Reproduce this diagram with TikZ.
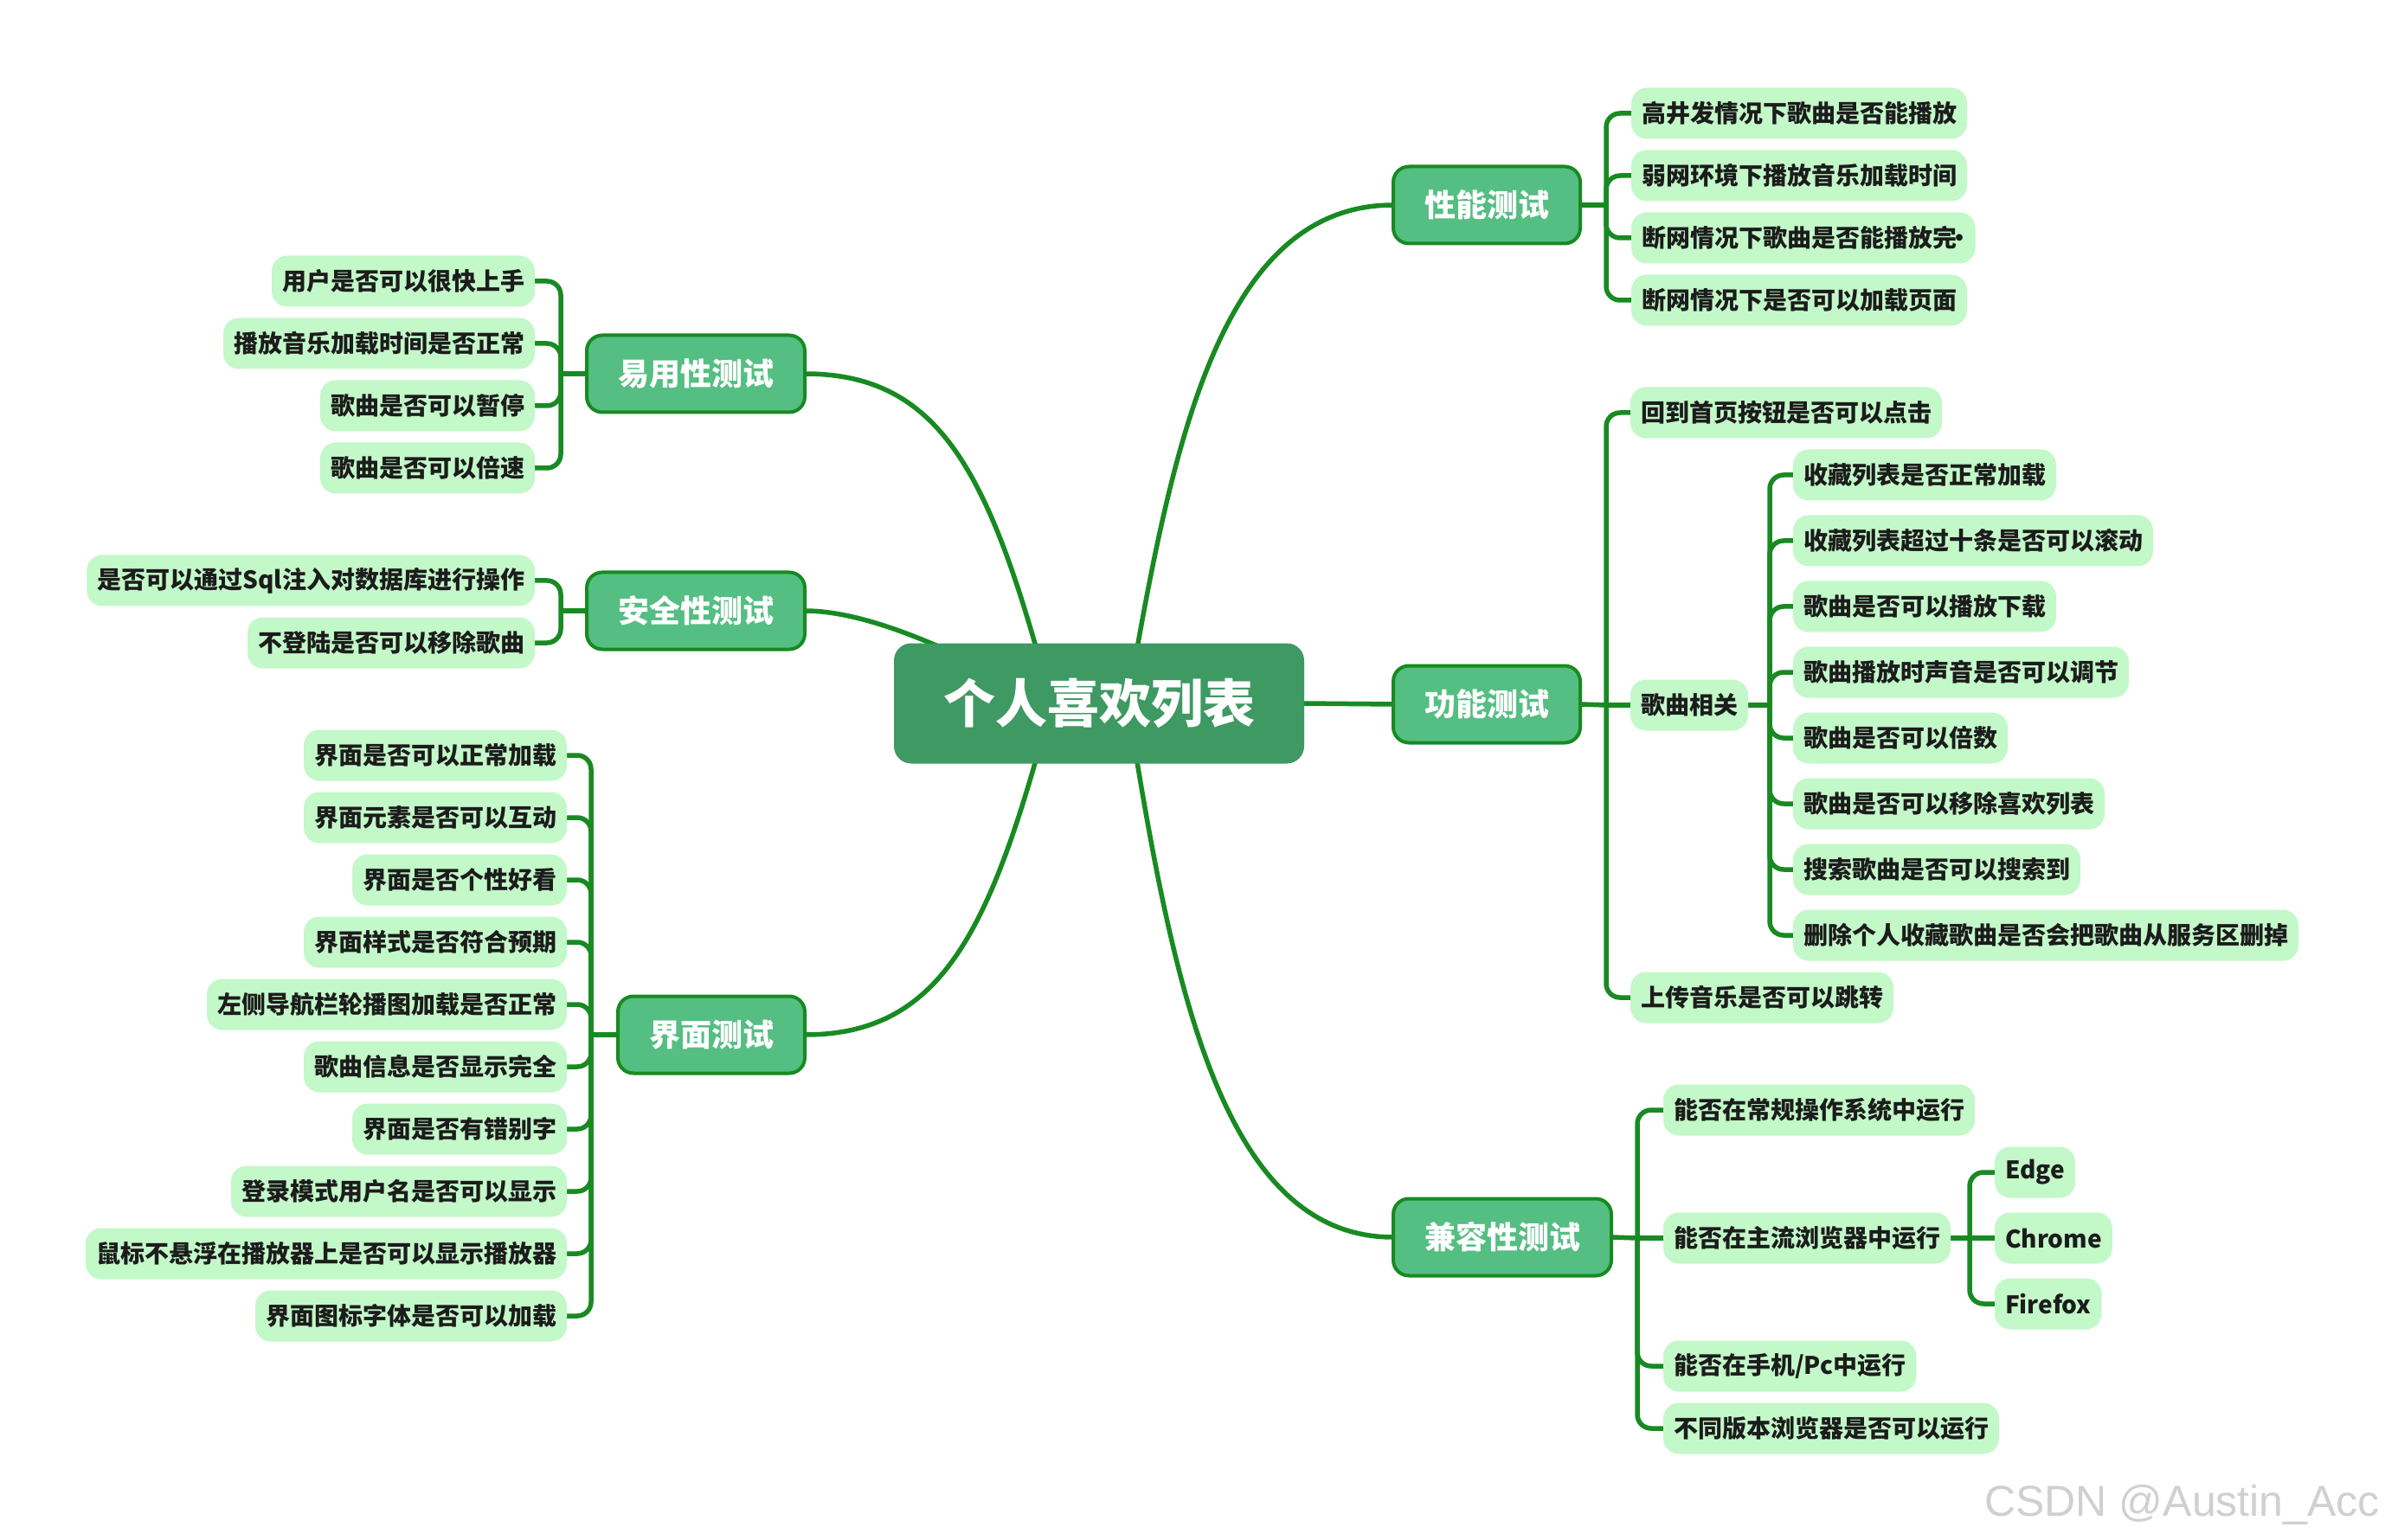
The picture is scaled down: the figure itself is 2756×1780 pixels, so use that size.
\documentclass[tikz,border=0pt]{standalone}
\usepackage{fontspec}
\setmainfont{Noto Sans CJK SC}
\newfontfamily\wmfont{Liberation Sans}
\usetikzlibrary{calc,backgrounds}
\definecolor{lineg}{HTML}{188A22}
\definecolor{rootfill}{HTML}{3F9962}
\definecolor{mainfill}{HTML}{55BE82}
\definecolor{leaffill}{HTML}{C3F8C8}
\definecolor{leaftext}{HTML}{1C1C1C}
\definecolor{wmcol}{HTML}{D0D0D0}
\begin{document}
\begin{tikzpicture}[x=0.5pt,y=-0.5pt,
  rootnode/.style={fill=rootfill, rounded corners=10pt, text=white,
    font=\fontsize{30pt}{34pt}\selectfont\bfseries, inner xsep=28.5pt, inner ysep=0pt,
    minimum height=69.5pt, outer sep=0pt},
  mainnode/.style={fill=mainfill, draw=lineg, line width=2pt, rounded corners=9pt, text=white,
    font=\fontsize{18pt}{21pt}\selectfont\bfseries, inner xsep=18pt, inner ysep=0pt,
    minimum height=44.5pt, outer sep=0pt},
  leaf/.style={fill=leaffill, rounded corners=9pt, text=leaftext,
    font=\fontsize{14pt}{17pt}\selectfont\bfseries, inner xsep=6pt, inner ysep=0pt,
    minimum height=29.5pt, outer sep=0pt},
  conn/.style={draw=lineg, line width=2.75pt},
  spine/.style={conn, rounded corners=8pt}]
\useasboundingbox (0,0) rectangle (2756,1780);

% root
\node[rootnode] (ctr) at (1270,813) {个人喜欢列表};

% main topics
\node[mainnode, anchor=west] (perf) at (1610,237) {性能测试};
\node[mainnode, anchor=west] (func) at (1610,814) {功能测试};
\node[mainnode, anchor=west] (comp) at (1610,1430) {兼容性测试};
\node[mainnode, anchor=east] (easy) at (930,432) {易用性测试};
\node[mainnode, anchor=east] (sec) at (930,706) {安全性测试};
\node[mainnode, anchor=east] (ui) at (930,1196) {界面测试};

% performance
\node[leaf, anchor=west] (p1) at (1885,131) {高井发情况下歌曲是否能播放};
\node[leaf, anchor=west] (p2) at (1885,203) {弱网环境下播放音乐加载时间};
\node[leaf, anchor=west] (p3) at (1885,275) {断网情况下歌曲是否能播放完\kern-0.36em•\kern-0.3em};
\node[leaf, anchor=west] (p4) at (1885,347) {断网情况下是否可以加载页面};

% function
\node[leaf, anchor=west] (f1) at (1884,477) {回到首页按钮是否可以点击};
\node[leaf, anchor=west] (f2) at (1884,815) {歌曲相关};
\node[leaf, anchor=west] (f3) at (1884,1153) {上传音乐是否可以跳转};

\node[leaf, anchor=west] (s1) at (2072,549) {收藏列表是否正常加载};
\node[leaf, anchor=west] (s2) at (2072,625) {收藏列表超过十条是否可以滚动};
\node[leaf, anchor=west] (s3) at (2072,701) {歌曲是否可以播放下载};
\node[leaf, anchor=west] (s4) at (2072,777) {歌曲播放时声音是否可以调节};
\node[leaf, anchor=west] (s5) at (2072,853) {歌曲是否可以倍数};
\node[leaf, anchor=west] (s6) at (2072,929) {歌曲是否可以移除喜欢列表};
\node[leaf, anchor=west] (s7) at (2072,1005) {搜索歌曲是否可以搜索到};
\node[leaf, anchor=west] (s8) at (2072,1081) {删除个人收藏歌曲是否会把歌曲从服务区删掉};

% compatibility
\node[leaf, anchor=west] (c1) at (1922,1283) {能否在常规操作系统中运行};
\node[leaf, anchor=west] (c2) at (1922,1431) {能否在主流浏览器中运行};
\node[leaf, anchor=west] (c3) at (1922,1579) {能否在手机/Pc中运行};
\node[leaf, anchor=west] (c4) at (1922,1651) {不同版本浏览器是否可以运行};

\node[leaf, anchor=west] (b1) at (2305,1355) {Edge};
\node[leaf, anchor=west] (b2) at (2305,1431) {Chrome};
\node[leaf, anchor=west] (b3) at (2305,1507) {Firefox};

% usability
\node[leaf, anchor=east] (e1) at (618,325) {用户是否可以很快上手};
\node[leaf, anchor=east] (e2) at (618,397) {播放音乐加载时间是否正常};
\node[leaf, anchor=east] (e3) at (618,469) {歌曲是否可以暂停};
\node[leaf, anchor=east] (e4) at (618,541) {歌曲是否可以倍速};

% security
\node[leaf, anchor=east] (q1) at (618,671) {是否可以通过Sql注入对数据库进行操作};
\node[leaf, anchor=east] (q2) at (618,743) {不登陆是否可以移除歌曲};

% UI
\node[leaf, anchor=east] (u1) at (655,873) {界面是否可以正常加载};
\node[leaf, anchor=east] (u2) at (655,945) {界面元素是否可以互动};
\node[leaf, anchor=east] (u3) at (655,1017) {界面是否个性好看};
\node[leaf, anchor=east] (u4) at (655,1089) {界面样式是否符合预期};
\node[leaf, anchor=east] (u5) at (655,1161) {左侧导航栏轮播图加载是否正常};
\node[leaf, anchor=east] (u6) at (655,1233) {歌曲信息是否显示完全};
\node[leaf, anchor=east] (u7) at (655,1305) {界面是否有错别字};
\node[leaf, anchor=east] (u8) at (655,1377) {登录模式用户名是否可以显示};
\node[leaf, anchor=east] (u9) at (655,1449) {鼠标不悬浮在播放器上是否可以显示播放器};
\node[leaf, anchor=east] (u10) at (655,1521) {界面图标字体是否可以加载};

% watermark
\node[anchor=base west, inner sep=0pt, text=wmcol, font=\wmfont\fontsize{25pt}{28pt}\selectfont] (wm) at (2293,1752) {CSDN @Austin\_Acc};

% junctions
\coordinate (perfj) at (1856,237);
\coordinate (funcj) at (1856,815);
\coordinate (songj) at (2045,815);
\coordinate (compj) at (1892,1431);
\coordinate (browj) at (2276,1431);
\coordinate (easyj) at (648,432);
\coordinate (secj) at (648,706);
\coordinate (uij) at (683,1196);

\begin{scope}[on background layer]
\fill[white] (0,0) rectangle (2756,1780);
% root connectors
\draw[conn] ($(ctr.center)+(33,0)$) .. controls +(51,-300) and +(-200,0) .. (perf.west);
\draw[conn] (ctr.east) -- (func.west);
\draw[conn] ($(ctr.center)+(33,0)$) .. controls +(51,320) and +(-200,0) .. (comp.west);
\draw[conn] ($(ctr.center)+(-55,0)$) .. controls +(-69,-260) and +(160,0) .. (easy.east);
\draw[conn] ($(ctr.center)+(-55,0)$) .. controls +(-95,-53) and +(79,0) .. (sec.east);
\draw[conn] ($(ctr.center)+(-55,0)$) .. controls +(-69,260) and +(160,0) .. (ui.east);

% performance
\draw[conn] (perf.east) -- (perfj);
\foreach \n in {p1,p2,p3,p4} \draw[spine] (perfj) |- (\n.west);
% function
\draw[conn] (func.east) -- (funcj);
\draw[spine] (funcj) |- (f1.west);
\draw[conn] (funcj) -- (f2.west);
\draw[spine] (funcj) |- (f3.west);
\draw[conn] (f2.east) -- (songj);
\foreach \n in {s1,s2,s3,s4,s5,s6,s7,s8} \draw[spine] (songj) |- (\n.west);
% compatibility
\draw[conn] (comp.east) -- (compj);
\draw[spine] (compj) |- (c1.west);
\draw[conn] (compj) -- (c2.west);
\draw[spine] (compj) |- (c3.west);
\draw[spine] (compj) |- (c4.west);
\draw[conn] (c2.east) -- (browj);
\draw[spine] (browj) |- (b1.west);
\draw[conn] (browj) -- (b2.west);
\draw[spine] (browj) |- (b3.west);
% usability
\draw[conn] (easy.west) -- (easyj);
\foreach \n in {e1,e2,e3,e4} \draw[spine] (easyj) |- (\n.east);
% security
\draw[conn] (sec.west) -- (secj);
\foreach \n in {q1,q2} \draw[spine] (secj) |- (\n.east);
% UI
\draw[conn] (ui.west) -- (uij);
\foreach \n in {u1,u2,u3,u4,u5,u6,u7,u8,u9,u10} \draw[spine] (uij) |- (\n.east);
\end{scope}
\end{tikzpicture}
\end{document}
